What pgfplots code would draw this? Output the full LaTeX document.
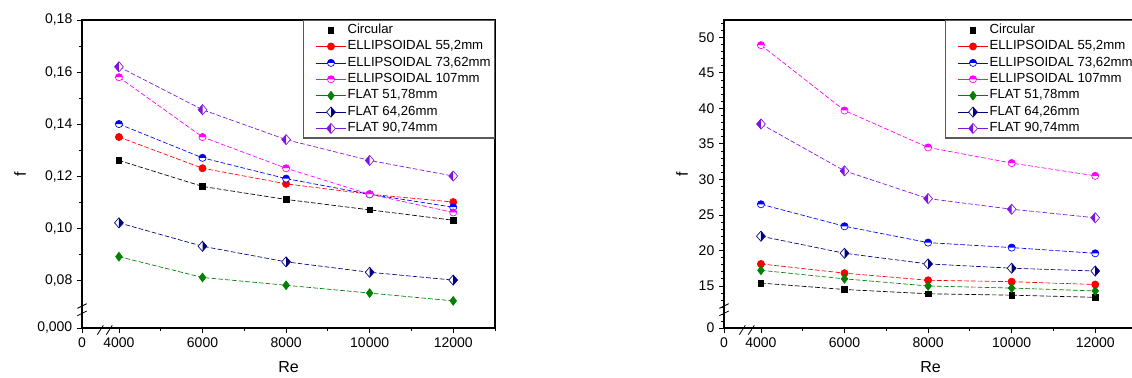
\documentclass[border=0pt]{standalone}
\usepackage{pgfplots}
\pgfplotsset{compat=1.18}
\usepackage{pgfplotstable}
\usepackage{fontspec}
\setmainfont{Liberation Sans}

\definecolor{cred}{RGB}{255,0,0}
\definecolor{cblue}{RGB}{0,0,255}
\definecolor{cmag}{RGB}{255,0,255}
\definecolor{cgreen}{RGB}{0,128,0}
\definecolor{cnavy}{RGB}{0,0,128}
\definecolor{cviol}{RGB}{128,20,220}

% half-filled circle (top half filled)
\newcommand\declhalfcirc[2]{%
\pgfdeclareplotmark{#1}{%
 \pgfsetfillcolor{white}%
 \pgfpathcircle{\pgfpointorigin}{\pgfplotmarksize}\pgfusepathqfill
 \pgfsetfillcolor{#2}%
 \pgfpathmoveto{\pgfpoint{\pgfplotmarksize}{0pt}}%
 \pgfpatharc{0}{180}{\pgfplotmarksize}\pgfpathclose\pgfusepathqfill
 \pgfsetstrokecolor{#2}%
 \pgfpathcircle{\pgfpointorigin}{\pgfplotmarksize}\pgfusepathqstroke}}
% half-filled diamond: #3 empty = right half, - = left half
\newcommand\declhalfdiam[3]{%
\pgfdeclareplotmark{#1}{%
 \pgfsetfillcolor{white}%
 \pgfpathmoveto{\pgfpoint{0pt}{1.15\pgfplotmarksize}}%
 \pgfpathlineto{\pgfpoint{\pgfplotmarksize}{0pt}}%
 \pgfpathlineto{\pgfpoint{0pt}{-1.15\pgfplotmarksize}}%
 \pgfpathlineto{\pgfpoint{-\pgfplotmarksize}{0pt}}%
 \pgfpathclose\pgfusepathqfill
 \pgfsetfillcolor{#2}%
 \pgfpathmoveto{\pgfpoint{0pt}{1.15\pgfplotmarksize}}%
 \pgfpathlineto{\pgfpoint{#3\pgfplotmarksize}{0pt}}%
 \pgfpathlineto{\pgfpoint{0pt}{-1.15\pgfplotmarksize}}%
 \pgfpathclose\pgfusepathqfill
 \pgfsetstrokecolor{#2}%
 \pgfpathmoveto{\pgfpoint{0pt}{1.15\pgfplotmarksize}}%
 \pgfpathlineto{\pgfpoint{\pgfplotmarksize}{0pt}}%
 \pgfpathlineto{\pgfpoint{0pt}{-1.15\pgfplotmarksize}}%
 \pgfpathlineto{\pgfpoint{-\pgfplotmarksize}{0pt}}%
 \pgfpathclose\pgfusepathqstroke}}
\declhalfcirc{hcblue}{cblue}
\declhalfcirc{hcmag}{cmag}
\declhalfdiam{hdnavy}{cnavy}{}
\declhalfdiam{hdviol}{cviol}{-}

\pgfplotstableread{
x circ e55 e73 e107 f51 f64 f90
4000 0.126 0.135 0.140 0.158 0.089 0.102 0.162
6000 0.116 0.123 0.127 0.135 0.081 0.093 0.1455
8000 0.111 0.117 0.119 0.123 0.078 0.087 0.134
10000 0.107 0.113 0.113 0.113 0.075 0.083 0.126
12000 0.103 0.110 0.108 0.106 0.072 0.080 0.120
}\lefttab
\pgfplotstableread{
x circ e55 e73 e107 f51 f64 f90
4000 15.4 18.1 26.5 48.9 17.2 22.0 37.8
6000 14.5 16.8 23.4 39.7 16.0 19.6 31.2
8000 13.9 15.8 21.1 34.5 15.0 18.1 27.3
10000 13.7 15.6 20.4 32.3 14.7 17.5 25.8
12000 13.4 15.2 19.6 30.5 14.3 17.1 24.6
}\righttab

\pgfplotsset{
 myaxis/.style={
  scale only axis, width=309.75pt, height=231pt,
  axis line style={line width=0.9pt},
  tick align=outside, tick pos=left,
  major tick length=3.75pt, minor tick length=2.25pt,
  every tick/.style={black, line width=0.6pt},
  tick label style={font=\fontsize{10.5}{12}\selectfont},
  label style={font=\fontsize{12}{14}\selectfont},
  xlabel={Re}, ylabel={f},
  xlabel style={at={([yshift=-29pt]rel axis cs:0.5,0)}, anchor=center},
  scaled x ticks=false, scaled y ticks=false,
  xmin=3116, xmax=13000,
  xtick={3116,4000,6000,8000,10000,12000},
  xticklabels={0,4000,6000,8000,10000,12000},
  minor xtick={5000,7000,9000,11000,13000},
  clip=false,
  legend cell align=left,
  legend style={at={(rel axis cs:1,1)}, anchor=north east, draw=black!65,
    line width=0.8pt, fill=white, font=\fontsize{9.9}{11}\selectfont,
    row sep=0pt, inner xsep=2pt, inner ysep=1pt,
    nodes={inner sep=0.9pt, text height=7.7pt, text depth=2.8pt}},
  legend image code/.code={\path (-7pt,0pt);\draw[solid,line width=0.5pt,mark repeat=2,mark phase=2]
     plot coordinates {(0pt,0pt)(11.25pt,0pt)(22.5pt,0pt)};},
  every axis plot/.append style={line width=0.5pt, dash pattern=on 3.5pt off 1.6pt},
  every axis plot post/.append style={mark options={solid}},
 },
 circ/.style={black, mark=square*, mark size=2.1pt,
   legend image code/.code={\path (-7pt,0pt) (22.5pt,0pt);\draw[solid,only marks] plot coordinates {(11.25pt,0pt)};}},
 e55/.style={cred, mark=*, mark size=2.7pt},
 e73/.style={cblue, mark=hcblue, mark size=2.7pt},
 e107/.style={cmag, mark=hcmag, mark size=2.7pt},
 f51/.style={cgreen, mark=diamond*, mark size=3.3pt},
 f64/.style={cnavy, mark=hdnavy, mark size=3.3pt},
 f90/.style={cviol, mark=hdviol, mark size=3.3pt},
}

\begin{document}
\begin{tikzpicture}
\begin{axis}[myaxis, at={(61.5pt,37.5pt)}, anchor=south west,
  ylabel style={at={([xshift=-46.5pt]rel axis cs:0,0.5)}, anchor=center},
  ymin=0.06157, ymax=0.18,
  ytick={0.06157,0.08,0.10,0.12,0.14,0.16,0.18},
  yticklabels={{0,000},{0,08},{0,10},{0,12},{0,14},{0,16},{0,18}},
  minor ytick={0.09,0.11,0.13,0.15,0.17}]
 \addplot[circ] table[x=x,y=circ]{\lefttab};
 \addlegendentry{Circular}
 \addplot[e55] table[x=x,y=e55]{\lefttab};
 \addlegendentry{ELLIPSOIDAL 55,2mm}
 \addplot[e73] table[x=x,y=e73]{\lefttab};
 \addlegendentry{ELLIPSOIDAL 73,62mm}
 \addplot[e107] table[x=x,y=e107]{\lefttab};
 \addlegendentry{ELLIPSOIDAL 107mm}
 \addplot[f51] table[x=x,y=f51]{\lefttab};
 \addlegendentry{FLAT 51,78mm}
 \addplot[f64] table[x=x,y=f64]{\lefttab};
 \addlegendentry{FLAT 64,26mm}
 \addplot[f90] table[x=x,y=f90]{\lefttab};
 \addlegendentry{FLAT 90,74mm}
 \draw[line width=0.6pt] ([xshift=-3.5pt,yshift=-3.5pt]rel axis cs:0,0.055) -- ++(7pt,3.5pt);
 \draw[line width=0.6pt] ([xshift=-3.5pt,yshift=-1pt]rel axis cs:0,0.068) -- ++(7pt,3.5pt);
 \draw[line width=0.6pt] ([xshift=-4pt,yshift=-5pt]rel axis cs:0.050,0) -- ++(4.5pt,7pt);
 \draw[line width=0.6pt] ([xshift=-1pt,yshift=-5pt]rel axis cs:0.062,0) -- ++(4.5pt,7pt);
\end{axis}
\begin{axis}[myaxis, at={(543pt,37.5pt)}, anchor=south west,
  ylabel style={at={([xshift=-31.5pt]rel axis cs:0,0.5)}, anchor=center},
  ymin=9.08, ymax=52.44,
  ytick={9.08,15,20,25,30,35,40,45,50},
  yticklabels={0,15,20,25,30,35,40,45,50},
  minor ytick={10,11,...,52}]
 \addplot[circ] table[x=x,y=circ]{\righttab};
 \addlegendentry{Circular}
 \addplot[e55] table[x=x,y=e55]{\righttab};
 \addlegendentry{ELLIPSOIDAL 55,2mm}
 \addplot[e73] table[x=x,y=e73]{\righttab};
 \addlegendentry{ELLIPSOIDAL 73,62mm}
 \addplot[e107] table[x=x,y=e107]{\righttab};
 \addlegendentry{ELLIPSOIDAL 107mm}
 \addplot[f51] table[x=x,y=f51]{\righttab};
 \addlegendentry{FLAT 51,78mm}
 \addplot[f64] table[x=x,y=f64]{\righttab};
 \addlegendentry{FLAT 64,26mm}
 \addplot[f90] table[x=x,y=f90]{\righttab};
 \addlegendentry{FLAT 90,74mm}
 \draw[line width=0.6pt] ([xshift=-3.5pt,yshift=-3.5pt]rel axis cs:0,0.055) -- ++(7pt,3.5pt);
 \draw[line width=0.6pt] ([xshift=-3.5pt,yshift=-1pt]rel axis cs:0,0.068) -- ++(7pt,3.5pt);
 \draw[line width=0.6pt] ([xshift=-4pt,yshift=-5pt]rel axis cs:0.050,0) -- ++(4.5pt,7pt);
 \draw[line width=0.6pt] ([xshift=-1pt,yshift=-5pt]rel axis cs:0.062,0) -- ++(4.5pt,7pt);
\end{axis}
\pgfresetboundingbox
\useasboundingbox (0,0) rectangle (849pt,283.5pt);
\end{tikzpicture}
\end{document}
